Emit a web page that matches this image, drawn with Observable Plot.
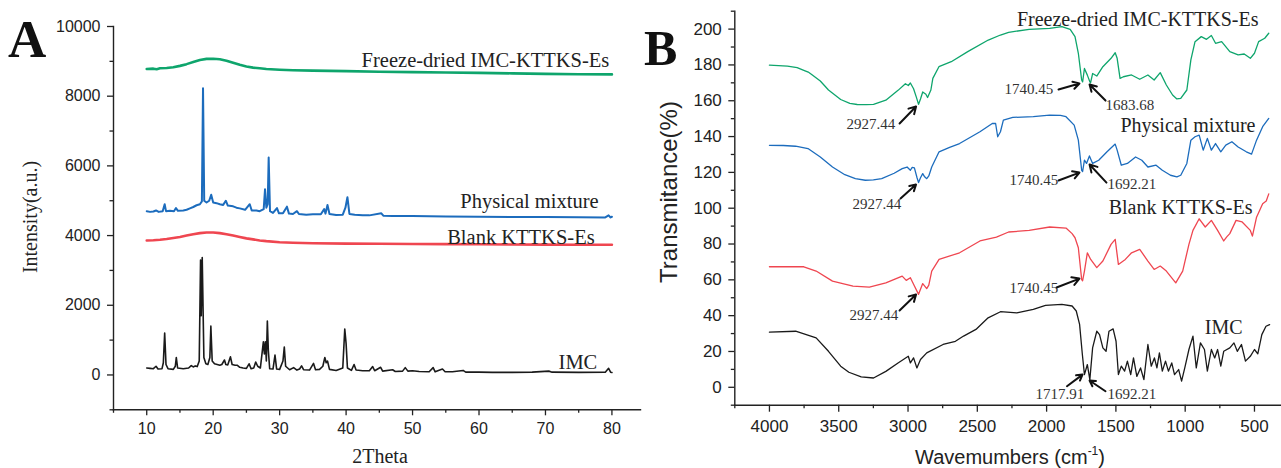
<!DOCTYPE html>
<html><head><meta charset="utf-8">
<script src="https://cdn.jsdelivr.net/npm/d3@7"></script>
<script src="https://cdn.jsdelivr.net/npm/@observablehq/plot@0.6"></script>
<style>
body{margin:0;background:#fff;}
#wrap{position:relative;width:1281px;height:468px;overflow:hidden;background:#fff;}
.panel{position:absolute;top:0;}
#overlay{position:absolute;left:0;top:0;pointer-events:none;}
</style></head><body>
<div id="wrap"></div>
<script>
// ---------- Panel A: XRD (2Theta vs intensity) ----------
const xrdTicksX = [10, 20, 30, 40, 50, 60, 70, 80];
const xrdMinorX = [5, 15, 25, 35, 45, 55, 65, 75];
const xrdTicksY = [0, 2000, 4000, 6000, 8000, 10000];
const xrdMinorY = [-1000, 1000, 3000, 5000, 7000, 9000];

const xrdFreeze = [[10,8780],[11,8790],[11.5,8775],[12,8800],[13,8810],[14,8830],[15,8870],[16,8920],[17,8980],[18,9040],[19,9070],[20,9075],[21,9060],[22,9020],[23,8960],[24,8900],[25,8850],[26,8820],[27,8800],[28,8780],[30,8760],[32,8745],[35,8735],[40,8720],[45,8700],[50,8690],[55,8680],[60,8670],[65,8655],[70,8640],[75,8630],[80,8625]];
const xrdPhysical = [[10,4700],[10.5,4680],[11,4690],[11.4,4720],[11.8,4680],[12.4,4700],[12.7,4900],[12.9,4700],[13.5,4710],[14.1,4700],[14.4,4790],[14.7,4710],[15.5,4720],[16,4740],[16.5,4780],[17,4820],[17.5,4870],[18,4900],[18.3,4980],[18.47,8230],[18.65,5000],[19,4950],[19.4,5000],[19.7,5170],[20,4950],[20.5,4930],[21,4900],[21.5,4880],[21.9,5000],[22.2,4860],[23,4840],[23.5,4800],[24,4780],[24.8,4740],[25.5,4900],[25.8,4720],[26.5,4720],[27,4700],[27.6,4760],[27.8,5330],[28.0,4800],[28.2,4900],[28.35,6240],[28.55,4700],[29,4650],[29.6,4790],[29.9,4640],[30.5,4640],[31.1,4830],[31.4,4630],[32,4620],[32.6,4700],[32.9,4620],[34,4600],[35,4610],[36.2,4610],[36.7,4760],[36.9,4630],[37.2,4880],[37.5,4620],[38.5,4590],[39.5,4600],[39.9,4800],[40.2,5100],[40.5,4620],[41.3,4600],[42.5,4580],[43.5,4580],[45.3,4640],[45.6,4570],[47,4560],[50,4560],[55,4545],[60,4540],[65,4535],[70,4530],[75,4525],[79,4520],[79.5,4580],[79.8,4520],[80,4540]];
const xrdBlank = [[10,3860],[11,3865],[12,3880],[13,3900],[14,3930],[15,3960],[16,4000],[17,4040],[18,4070],[19,4090],[20,4090],[21,4070],[22,4040],[23,4000],[24,3960],[25,3920],[26,3890],[27,3860],[28,3840],[30,3810],[32,3795],[35,3780],[40,3770],[45,3765],[50,3760],[55,3755],[60,3750],[65,3745],[70,3740],[75,3738],[80,3735]];
const xrdIMC = [[10,200],[10.5,190],[11,180],[11.4,250],[11.7,170],[12.3,180],[12.5,350],[12.7,1200],[12.9,300],[13.2,180],[14,160],[14.3,250],[14.45,500],[14.65,200],[15.5,180],[16.3,200],[16.7,270],[17,230],[17.3,260],[17.6,240],[17.9,400],[18.1,3300],[18.2,1700],[18.35,3370],[18.6,500],[18.9,320],[19.2,300],[19.5,500],[19.65,1400],[19.85,400],[20.2,320],[20.6,300],[21,280],[21.3,300],[21.7,430],[21.9,300],[22.2,290],[22.6,520],[22.85,300],[23.3,280],[23.6,280],[24,220],[24.5,200],[25,190],[25.4,320],[25.7,180],[26.1,200],[26.4,370],[26.7,250],[27.1,200],[27.4,700],[27.55,950],[27.7,600],[27.85,950],[28.0,400],[28.15,1550],[28.3,700],[28.5,180],[29,170],[29.3,570],[29.55,170],[30,160],[30.5,400],[30.7,800],[30.9,250],[31.5,150],[32.1,210],[32.6,140],[33,170],[33.3,260],[33.6,150],[34.5,140],[35.1,330],[35.4,150],[36,160],[36.5,250],[36.8,500],[37.0,350],[37.2,400],[37.5,160],[38.5,130],[39.5,200],[39.8,1320],[40.0,900],[40.2,200],[40.8,130],[41.2,300],[41.5,140],[42.5,120],[43.5,120],[44,240],[44.3,120],[45.2,220],[45.5,110],[47,150],[47.4,100],[48.5,110],[48.9,210],[49.3,110],[50,120],[51,100],[52.5,90],[53.1,210],[53.4,90],[54.5,170],[54.9,90],[56,90],[57.6,130],[58,80],[60,80],[62,75],[65,75],[68,80],[70.5,110],[71,80],[75,75],[79,80],[79.5,190],[79.8,80],[80,70]];

const xrdLabels = ["Freeze-dried IMC-KTTKS-Es", "Physical mixture", "Blank KTTKS-Es", "IMC"];
const xrdLabelX = [79.6, 78.0, 77.4, 77.8];
const xrdLabelY = [8852, 4777, 3770, 185];

// ---------- Panel B: FTIR (wavenumber vs transmittance) ----------
const ftirTicksX = [4000, 3500, 3000, 2500, 2000, 1500, 1000, 500];
const ftirMinorX = [4250, 3750, 3250, 2750, 2250, 1750, 1250, 750];
const ftirTicksY = [0, 20, 40, 60, 80, 100, 120, 140, 160, 180, 200];
const ftirMinorY = [-10, 10, 30, 50, 70, 90, 110, 130, 150, 170, 190, 210];

const ftirFreeze = [[4000,179.9],[3870,179.3],[3800,178.5],[3752,177],[3720,176],[3693,174.5],[3633,171],[3574,166],[3486,160.7],[3420,158.5],[3367,157.9],[3300,157.8],[3249,158],[3160,160.3],[3072,165.8],[3019,169.5],[2998,168.5],[2983,169.9],[2960,166.7],[2940,162],[2924,158],[2910,161],[2894,164.9],[2871,163.6],[2859,161.8],[2835,166],[2821,172.5],[2777,179],[2688,181.8],[2569,187.4],[2421,193.9],[2333,196.7],[2274,198.2],[2126,199.9],[1978,200.4],[1890,201.4],[1830,199.9],[1795,195.8],[1771,186.5],[1747,171.6],[1740,170.5],[1727,178],[1706,174.3],[1688,170.6],[1683,170],[1668,175.2],[1638,173.8],[1594,179],[1535,183.7],[1505,186.8],[1491,183.7],[1470,172.5],[1446,173.4],[1387,174.4],[1328,172],[1269,174.4],[1224,171.6],[1180,175.7],[1136,168.8],[1091,163.2],[1060,161],[1032,161.3],[988,166],[959,182.8],[929,193],[884,195.8],[846,194.3],[811,196.4],[781,192.1],[737,193],[678,187.4],[618,185.6],[574,186.1],[530,183.7],[500,186.5],[470,193],[426,194.9],[397,197.7]];
const ftirPhysical = [[4000,135.1],[3900,135],[3811,134.6],[3722,133.3],[3633,128.6],[3545,123],[3456,118.7],[3380,116.5],[3308,115.6],[3250,115.8],[3190,116.5],[3100,119.5],[3042,122.1],[3007,123],[2983,121.2],[2970,122.8],[2954,122.5],[2935,117],[2924,114.3],[2910,117],[2894,119.3],[2880,117.5],[2865,116.5],[2850,118],[2829,123],[2776,131.5],[2700,134],[2628,136.1],[2481,142.7],[2392,147.3],[2368,147.3],[2353,139.9],[2333,142.7],[2312,149.2],[2244,150.7],[2096,151.1],[1978,152],[1900,151.8],[1860,151.1],[1801,146.4],[1771,138],[1747,121.2],[1740,120.5],[1727,126.8],[1712,125],[1691,129.2],[1668,125],[1624,126.8],[1564,131.5],[1505,135.8],[1491,132.4],[1461,124],[1417,125],[1358,128.6],[1313,126.8],[1269,123],[1210,124],[1165,121.2],[1106,118.4],[1060,117.5],[1032,118.4],[988,125],[959,138],[929,139.9],[899,140.8],[870,132.4],[840,139],[811,132.4],[781,136.1],[743,131.5],[707,135.2],[663,137.1],[618,134.2],[559,131.5],[521,130.2],[485,138],[441,145.5],[397,150.1]];
const ftirBlank = [[4000,67.3],[3900,67.3],[3752,67.3],[3663,64.9],[3545,59.3],[3397,56.5],[3279,55.9],[3160,58.3],[3042,62.1],[3013,59.7],[2983,61.2],[2960,57.5],[2924,51.9],[2894,57.9],[2865,55.1],[2850,57],[2829,64.9],[2776,71.4],[2628,75.1],[2481,81.7],[2362,83.9],[2274,86.7],[2126,87.6],[1978,89.5],[1860,88.9],[1816,85.8],[1795,83.5],[1771,77.9],[1747,60.2],[1740,59.5],[1727,64.9],[1706,75.1],[1682,71.4],[1638,66.8],[1594,70.5],[1535,79.8],[1505,82.6],[1482,68.6],[1432,71.4],[1387,75.1],[1328,77],[1269,70.5],[1224,65.8],[1180,67.7],[1136,64.9],[1068,58.3],[1018,64.9],[973,79.8],[944,87.6],[899,94.1],[855,89.5],[811,93.2],[766,87.6],[722,81.7],[700,84],[678,85.8],[633,93.2],[589,92.3],[530,87.6],[515,84.4],[485,95],[441,102.5],[415,104],[397,108]];
const ftirIMC = [[4000,30.8],[3811,31.3],[3663,27.6],[3574,20.1],[3486,11.8],[3427,8.4],[3338,5.8],[3249,5.2],[3160,8.9],[3072,13.6],[2998,17.3],[2983,13.6],[2960,16.4],[2936,10.8],[2910,15.5],[2865,19.2],[2747,23.9],[2658,25.7],[2599,28.6],[2510,32.3],[2422,38.8],[2333,42.2],[2215,41.6],[2096,43.5],[2008,45.7],[1890,46.3],[1816,45.4],[1786,42.6],[1762,35.1],[1742,18.3],[1727,7.1],[1706,12.7],[1688,4.3],[1668,22],[1638,31.3],[1618,29.4],[1594,22],[1571,20.1],[1550,31.3],[1520,32.6],[1499,25.7],[1482,7.1],[1461,11.8],[1437,9],[1417,14.6],[1393,7.1],[1373,16.4],[1349,6.1],[1322,10.8],[1298,4.3],[1269,23.9],[1245,11.8],[1222,16.4],[1204,10.8],[1186,19.2],[1165,9],[1142,14.6],[1121,9],[1097,13.6],[1077,7.1],[1047,9.9],[1026,3.4],[1003,10.8],[973,21.1],[944,28.6],[920,10.8],[890,24.8],[861,21.1],[840,9],[811,21.1],[787,16.4],[766,21.1],[743,11.8],[722,20.1],[678,22],[648,24.8],[624,20.1],[594,23.9],[565,14.6],[530,17.3],[500,21.1],[476,18.7],[447,29.4],[417,34.1],[391,35]];

const ftirLabels = ["Freeze-dried IMC-KTTKS-Es", "Physical mixture", "Blank KTTKS-Es", "IMC"];
const ftirLabelX = [471, 493, 514, 586];
const ftirLabelY = [202, 142.8, 96.5, 29.5];

const peakText = ["2927.44","1740.45","1683.68","2927.44","1740.45","1692.21","2927.44","1740.45","1717.91","1692.21"];
const peakTextX = [3444, 2304, 1575, 3401, 2268, 1561, 3422, 2268, 2080, 1561];
const peakTextY = [144.5, 163.5, 154.6, 99.3, 112.7, 111, 37.8, 52.9, -6.8, -6.8];
const arrowFromX = [3061, 1914, 1575, 3054, 1914, 1568, 3061, 1928, 1853, 1575];
const arrowFromY = [147.3, 166.3, 160.1, 105.4, 115.5, 114.3, 42.9, 55.7, 0.6, -2.2];
const arrowToX = [2942, 1763, 1690, 2942, 1763, 1690, 2942, 1763, 1741, 1690];
const arrowToY = [156.8, 169.6, 169.1, 113.2, 119.9, 124.4, 51.8, 60.7, 7.1, 3.8];

const colors = ["#0ea56c", "#1c6cbd", "#ef4650", "#1a1a1a"];

// ---------- build ----------
const serif = "'Liberation Serif','Times New Roman',serif";
const sans = "'Liberation Sans',Arial,sans-serif";
const rows = (arr) => arr.map(([x, y]) => ({x, y}));
const plain = d3.format("d");
const wrap = document.getElementById("wrap");

const plotA = Plot.plot({
  width: 640, height: 468,
  marginLeft: 113, marginRight: 0, marginTop: 26, marginBottom: 58.7,
  x: {domain: [5, 84.3]},
  y: {domain: [-1000, 10000]},
  style: {fontFamily: sans, fontSize: "16px", color: "#222", background: "transparent", overflow: "visible"},
  marks: [
    Plot.axisY(xrdTicksY, {tickSize: 6, tickPadding: 7, label: null, fontSize: 16, strokeWidth: 1.3, tickFormat: plain}),
    Plot.axisY(xrdMinorY, {tickSize: 3.5, tickFormat: () => "", label: null, strokeWidth: 1.3}),
    Plot.axisX(xrdTicksX, {tickSize: 6, tickPadding: 7, label: null, fontSize: 16, strokeWidth: 1.3, tickFormat: plain}),
    Plot.axisX(xrdMinorX, {tickSize: 3.5, tickFormat: () => "", label: null, strokeWidth: 1.3}),
    Plot.frame({anchor: "left", stroke: "#222", strokeWidth: 1.4}),
    Plot.frame({anchor: "bottom", stroke: "#222", strokeWidth: 1.4}),
    Plot.line(rows(xrdFreeze), {x: "x", y: "y", stroke: colors[0], strokeWidth: 2.6}),
    Plot.line(rows(xrdPhysical), {x: "x", y: "y", stroke: colors[1], strokeWidth: 2}),
    Plot.line(rows(xrdBlank), {x: "x", y: "y", stroke: colors[2], strokeWidth: 2.6}),
    Plot.line(rows(xrdIMC), {x: "x", y: "y", stroke: colors[3], strokeWidth: 1.6}),
    Plot.text(xrdLabels, {x: (d, i) => xrdLabelX[i], y: (d, i) => xrdLabelY[i], text: d => d,
      textAnchor: "end", lineAnchor: "bottom", fontFamily: serif, fontSize: 20.5, fill: "#222"})
  ]
});
plotA.classList.add("panel");
plotA.style.left = "0px";
wrap.appendChild(plotA);

const arrowRows = peakText.map((t, i) => ({t, tx: peakTextX[i], ty: peakTextY[i],
  x1: arrowFromX[i], y1: arrowFromY[i], x2: arrowToX[i], y2: arrowToY[i]}));

const plotB = Plot.plot({
  width: 641, height: 468,
  marginLeft: 94.3, marginRight: 0, marginTop: 10.7, marginBottom: 63.3,
  x: {domain: [4250, 305]},
  y: {domain: [-10, 210]},
  style: {fontFamily: sans, fontSize: "17px", color: "#222", background: "transparent", overflow: "visible"},
  marks: [
    Plot.axisY(ftirTicksY, {tickSize: 6, tickPadding: 7, label: null, fontSize: 17, strokeWidth: 1.3, tickFormat: plain}),
    Plot.axisY(ftirMinorY, {tickSize: 3.5, tickFormat: () => "", label: null, strokeWidth: 1.3}),
    Plot.axisX(ftirTicksX, {tickSize: 7, tickPadding: 8, label: null, fontSize: 17, strokeWidth: 1.3, tickFormat: plain}),
    Plot.axisX(ftirMinorX, {tickSize: 3.5, tickFormat: () => "", label: null, strokeWidth: 1.3}),
    Plot.frame({anchor: "left", stroke: "#222", strokeWidth: 1.4}),
    Plot.frame({anchor: "bottom", stroke: "#222", strokeWidth: 1.4}),
    Plot.line(rows(ftirFreeze), {x: "x", y: "y", stroke: colors[0], strokeWidth: 1.3}),
    Plot.line(rows(ftirPhysical), {x: "x", y: "y", stroke: colors[1], strokeWidth: 1.3}),
    Plot.line(rows(ftirBlank), {x: "x", y: "y", stroke: colors[2], strokeWidth: 1.3}),
    Plot.line(rows(ftirIMC), {x: "x", y: "y", stroke: colors[3], strokeWidth: 1.3}),
    Plot.arrow(arrowRows, {x1: "x1", y1: "y1", x2: "x2", y2: "y2", stroke: "#111", strokeWidth: 2, headLength: 7}),
    Plot.text(arrowRows, {x: "tx", y: "ty", text: "t", textAnchor: "start", lineAnchor: "bottom",
      fontFamily: serif, fontSize: 15, fill: "#333"}),
    Plot.text(ftirLabels, {x: (d, i) => ftirLabelX[i], y: (d, i) => ftirLabelY[i], text: d => d,
      textAnchor: "end", lineAnchor: "bottom", fontFamily: serif, fontSize: 20, fill: "#222"})
  ]
});
plotB.classList.add("panel");
plotB.style.left = "640px";
wrap.appendChild(plotB);

// ---------- titles, axis names, panel letters ----------
const ov = d3.select(wrap).append("svg").attr("id", "overlay").attr("width", 1281).attr("height", 468);
ov.append("text").text("A").attr("x", 8).attr("y", 57).attr("font-family", serif).attr("font-weight", "bold").attr("font-size", 53).attr("fill", "#111");
ov.append("text").text("B").attr("x", 644).attr("y", 65).attr("font-family", serif).attr("font-weight", "bold").attr("font-size", 50).attr("fill", "#111");
ov.append("text").text("2Theta").attr("x", 380).attr("y", 463).attr("text-anchor", "middle").attr("font-family", serif).attr("font-size", 20).attr("fill", "#222");
ov.append("text").text("Intensity(a.u.)").attr("transform", "translate(37,217) rotate(-90)").attr("text-anchor", "middle").attr("font-family", serif).attr("font-size", 20).attr("fill", "#222");
ov.append("text").text("Transmitance(%)").attr("transform", "translate(677,192) rotate(-90)").attr("text-anchor", "middle").attr("font-family", sans).attr("font-size", 24).attr("fill", "#222");
const wt = ov.append("text").attr("x", 1010).attr("y", 464).attr("text-anchor", "middle").attr("font-family", sans).attr("font-size", 20).attr("fill", "#222");
wt.append("tspan").text("Wavemumbers (cm");
wt.append("tspan").text("-1").attr("font-size", 12).attr("dy", -9);
wt.append("tspan").text(")").attr("dy", 9);
</script>
</body></html>
